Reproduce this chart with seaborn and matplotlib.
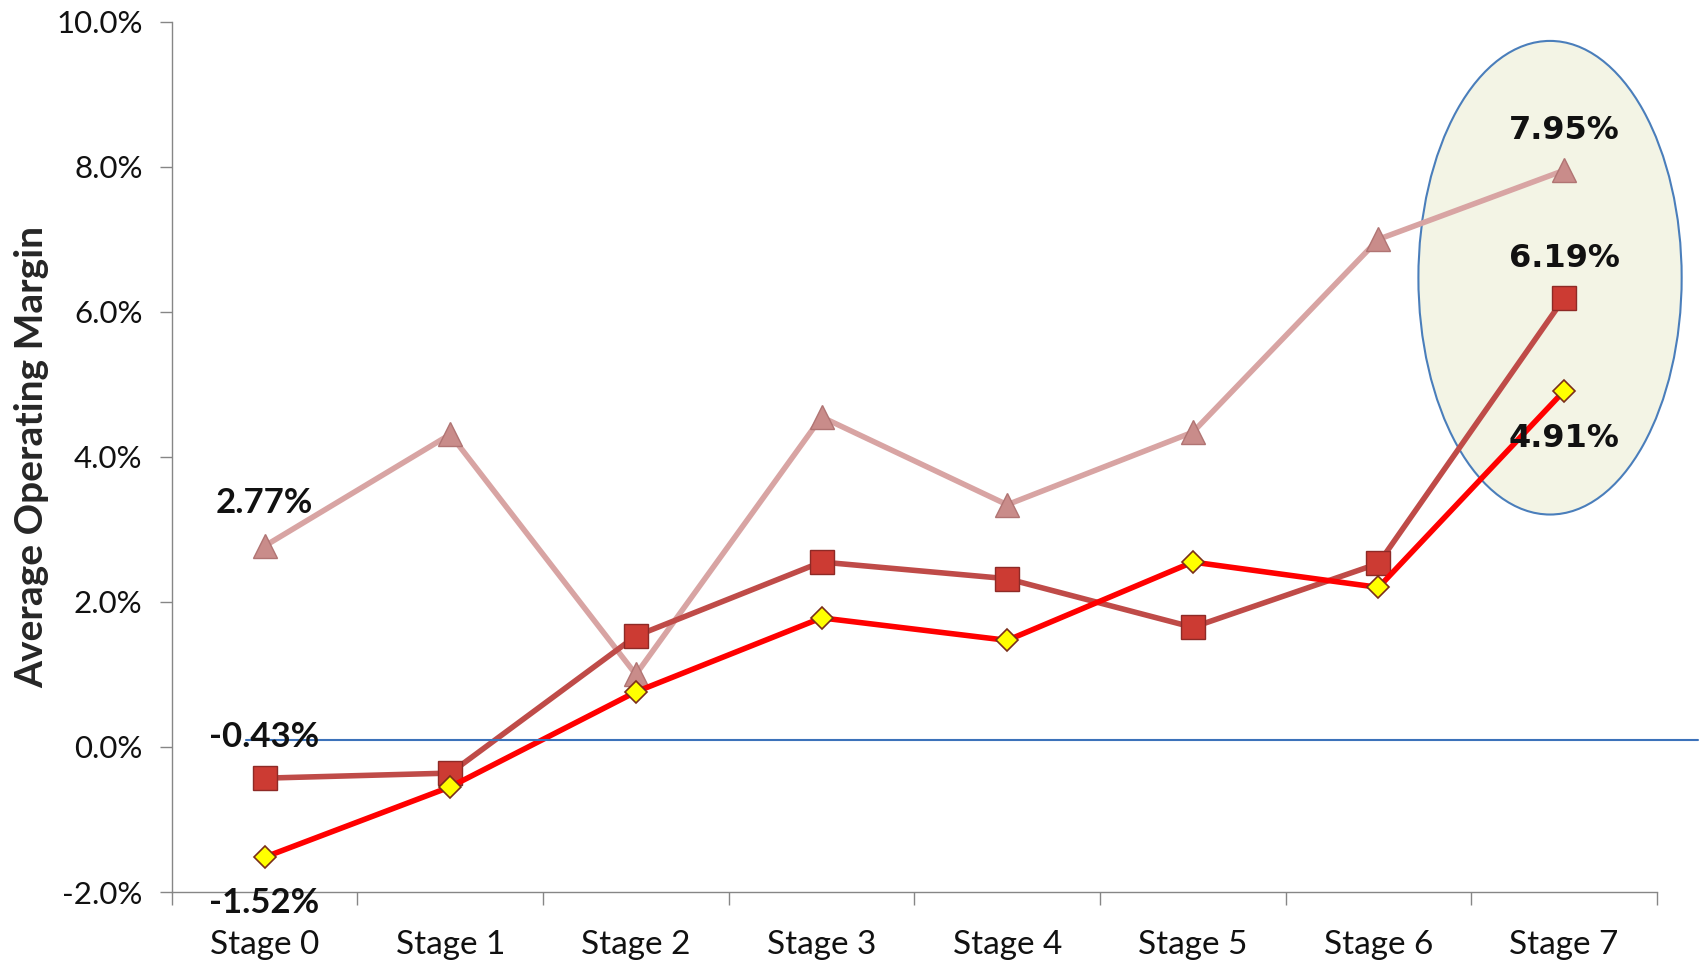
import matplotlib
matplotlib.use("Agg")
import matplotlib.pyplot as plt
import seaborn as sns
import pandas as pd
from matplotlib.patches import Ellipse
from matplotlib.ticker import FuncFormatter, FixedLocator

stages = ["Stage 0", "Stage 1", "Stage 2", "Stage 3", "Stage 4", "Stage 5", "Stage 6", "Stage 7"]
series_triangle = [2.77, 4.31, 1.00, 4.55, 3.34, 4.34, 7.00, 7.95]
series_square = [-0.43, -0.36, 1.53, 2.55, 2.32, 1.65, 2.53, 6.19]
series_diamond = [-1.52, -0.55, 0.76, 1.78, 1.47, 2.55, 2.20, 4.91]
yticks = [-2, 0, 2, 4, 6, 8, 10]
ylabel = "Average Operating Margin"
labels = [
    (0, 2.77, "2.77%"), (0, -0.43, "-0.43%"), (0, -1.52, "-1.52%"),
    (7, 7.95, "7.95%"), (7, 6.19, "6.19%"), (7, 4.91, "4.91%"),
]

sns.set_theme(style="white")
plt.rcParams['font.family'] = ['Lato', 'DejaVu Sans']

fig = plt.figure(figsize=(17.04, 9.60), dpi=100)
ax = fig.add_axes([0.1008, 0.0708, 0.8716, 0.9066])

df = pd.DataFrame({"Stage": stages, "tri": series_triangle,
                   "sq": series_square, "dia": series_diamond})

# Highlight ellipse (behind lines)
ell = Ellipse((6.924, 6.47), 1.418, 6.53, facecolor="#F3F4E5",
              edgecolor="#4A7EBB", linewidth=1.5, zorder=0.5, clip_on=False)
ax.add_patch(ell)

sns.lineplot(data=df, x="Stage", y="tri", ax=ax, color="#D8A4A3", linewidth=4.0,
             marker="^", markersize=17, markerfacecolor="#C98C8A",
             markeredgecolor="#B07473", markeredgewidth=1.0, zorder=3)
sns.lineplot(data=df, x="Stage", y="sq", ax=ax, color="#BF4B48", linewidth=4.0,
             marker="s", markersize=17, markerfacecolor="#CC3B33",
             markeredgecolor="#8E2A26", markeredgewidth=1.0, zorder=4)
sns.lineplot(data=df, x="Stage", y="dia", ax=ax, color="#FF0000", linewidth=4.0,
             marker="D", markersize=11, markerfacecolor="#FFFF00",
             markeredgecolor="#7A2E1A", markeredgewidth=1.2, zorder=5)

# Horizontal reference line (drawn shape)
ax.plot([-0.1, 7.72], [0.09, 0.09], color="#3C72BA", linewidth=1.5,
        zorder=6, clip_on=False)

ax.set_xlim(-0.5, 7.5)
ax.set_ylim(-2, 10)
ax.set_yticks(yticks)
ax.yaxis.set_major_formatter(FuncFormatter(lambda v, p: f"{v:.1f}%"))
ax.set_xticks(range(len(stages)))
ax.set_xticklabels(stages)
ax.xaxis.set_minor_locator(FixedLocator([i - 0.5 for i in range(len(stages) + 1)]))
ax.tick_params(axis="x", which="major", length=0, labelsize=24, pad=27, colors="#111111")
ax.tick_params(axis="x", which="minor", length=9, width=1, color="#868686", bottom=True)
ax.tick_params(axis="y", which="major", length=9, width=1, color="#868686",
               labelsize=22.5, left=True, pad=12)
for lab in ax.get_yticklabels():
    lab.set_color("#111111")

ax.set_xlabel("")
ax.set_ylabel(ylabel, fontsize=28, fontweight="bold", labelpad=5)

for s in ["top", "right"]:
    ax.spines[s].set_visible(False)
for s in ["left", "bottom"]:
    ax.spines[s].set_color("#868686")
    ax.spines[s].set_linewidth(1.0)

pos = {
    "2.77%": 3.36, "-0.43%": 0.14, "-1.52%": -2.15,
    "7.95%": 8.5, "6.19%": 6.74, "4.91%": 4.25,
}
for x, v, t in labels:
    if x == 7:
        ax.text(x, pos[t], t, ha="center", va="center", fontsize=23,
                fontweight="bold", family=["DejaVu Sans"], color="#111111",
                zorder=7, clip_on=False)
    else:
        ax.text(x, pos[t], t, ha="center", va="center", fontsize=25,
                fontweight="bold", color="#111111", zorder=7, clip_on=False)

fig.savefig("out.png", dpi=100)
